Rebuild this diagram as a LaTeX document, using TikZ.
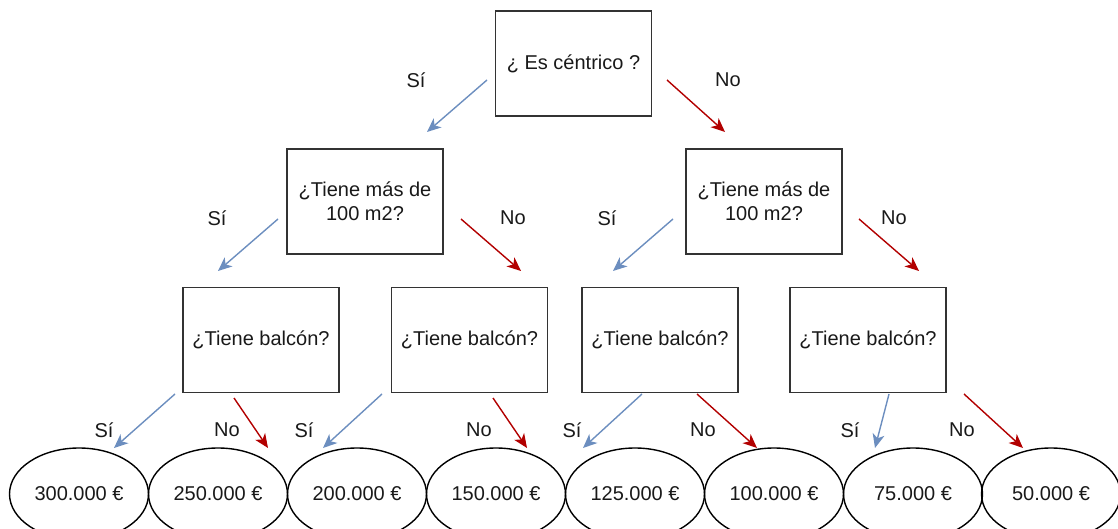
\documentclass[tikz,border=0pt]{standalone}
\usepackage{fontspec}
\setmainfont{Liberation Sans}
\usetikzlibrary{arrows.meta,shapes.geometric}
\definecolor{siblue}{HTML}{6C8EBF}
\definecolor{nored}{HTML}{B20000}
\definecolor{boxline}{HTML}{333333}
\begin{document}
\begin{tikzpicture}[x=1pt,y=-1pt,
  every node/.style={font=\fontsize{20}{24}\selectfont, text=black!90},
  qbox/.style={draw=boxline, line width=1.5pt, minimum width=156pt, minimum height=105pt, inner sep=0pt, align=center},
  leaf/.style={draw=black, line width=1.4pt, ellipse, minimum width=139pt, minimum height=92pt, inner sep=0pt},
  lbl/.style={inner sep=0pt},
  siarrow/.style={draw=siblue, line width=1.4pt, -{Stealth[length=14pt,width=12pt,inset=4pt]}},
  noarrow/.style={draw=nored, line width=1.4pt, -{Stealth[length=14pt,width=12pt,inset=4pt]}}
]
\useasboundingbox (0,0) rectangle (1118,529);
% question boxes
\node[qbox] (q0) at (573.5,63.5) {¿ Es céntrico ?};
\node[qbox] (q1) at (365,201.5) {¿Tiene más de\\100 m2?};
\node[qbox] (q2) at (764,201.5) {¿Tiene más de\\100 m2?};
\node[qbox] (b1) at (261,340) {¿Tiene balcón?};
\node[qbox] (b2) at (469.5,340) {¿Tiene balcón?};
\node[qbox] (b3) at (660,340) {¿Tiene balcón?};
\node[qbox] (b4) at (868,340) {¿Tiene balcón?};
% leaves
\node[leaf] (l1) at (79,494) {300.000 €};
\node[leaf] (l2) at (218,494) {250.000 €};
\node[leaf] (l3) at (357,494) {200.000 €};
\node[leaf] (l4) at (496,494) {150.000 €};
\node[leaf] (l5) at (635,494) {125.000 €};
\node[leaf] (l6) at (774,494) {100.000 €};
\node[leaf] (l7) at (913,494) {75.000 €};
\node[leaf] (l8) at (1051,494) {50.000 €};
% arrow end points
\coordinate (a0s1) at (487,80);  \coordinate (a0s2) at (427,132);
\coordinate (a0n1) at (667,80);  \coordinate (a0n2) at (725,132);
\coordinate (a1s1) at (278,219); \coordinate (a1s2) at (218,271);
\coordinate (a1n1) at (461,219); \coordinate (a1n2) at (521,271);
\coordinate (a2s1) at (673,219); \coordinate (a2s2) at (613,271);
\coordinate (a2n1) at (859,219); \coordinate (a2n2) at (919,271);
\coordinate (c1s1) at (175,394); \coordinate (c1s2) at (114,448);
\coordinate (c1n1) at (234,398); \coordinate (c1n2) at (268,448);
\coordinate (c2s1) at (382,394); \coordinate (c2s2) at (323,448);
\coordinate (c2n1) at (493,398); \coordinate (c2n2) at (527,448);
\coordinate (c3s1) at (642,394); \coordinate (c3s2) at (583,448);
\coordinate (c3n1) at (697,394); \coordinate (c3n2) at (757,448);
\coordinate (c4s1) at (889,394); \coordinate (c4s2) at (875,448);
\coordinate (c4n1) at (964,394); \coordinate (c4n2) at (1023,448);
% arrows
\draw[siarrow] (a0s1) -- (a0s2);
\draw[noarrow] (a0n1) -- (a0n2);
\draw[siarrow] (a1s1) -- (a1s2);
\draw[noarrow] (a1n1) -- (a1n2);
\draw[siarrow] (a2s1) -- (a2s2);
\draw[noarrow] (a2n1) -- (a2n2);
\draw[siarrow] (c1s1) -- (c1s2);
\draw[noarrow] (c1n1) -- (c1n2);
\draw[siarrow] (c2s1) -- (c2s2);
\draw[noarrow] (c2n1) -- (c2n2);
\draw[siarrow] (c3s1) -- (c3s2);
\draw[noarrow] (c3n1) -- (c3n2);
\draw[siarrow] (c4s1) -- (c4s2);
\draw[noarrow] (c4n1) -- (c4n2);
% labels
\node[lbl] (t0s) at (416,80) {Sí};
\node[lbl] (t0n) at (728,80) {No};
\node[lbl] (t1s) at (217,218) {Sí};
\node[lbl] (t1n) at (513,218) {No};
\node[lbl] (t2s) at (607,218) {Sí};
\node[lbl] (t2n) at (894,218) {No};
\node[lbl] (u1s) at (104,430) {Sí};
\node[lbl] (u1n) at (227,430) {No};
\node[lbl] (u2s) at (304,430) {Sí};
\node[lbl] (u2n) at (479,430) {No};
\node[lbl] (u3s) at (572,430) {Sí};
\node[lbl] (u3n) at (703,430) {No};
\node[lbl] (u4s) at (850,430) {Sí};
\node[lbl] (u4n) at (962,430) {No};
\end{tikzpicture}
\end{document}
